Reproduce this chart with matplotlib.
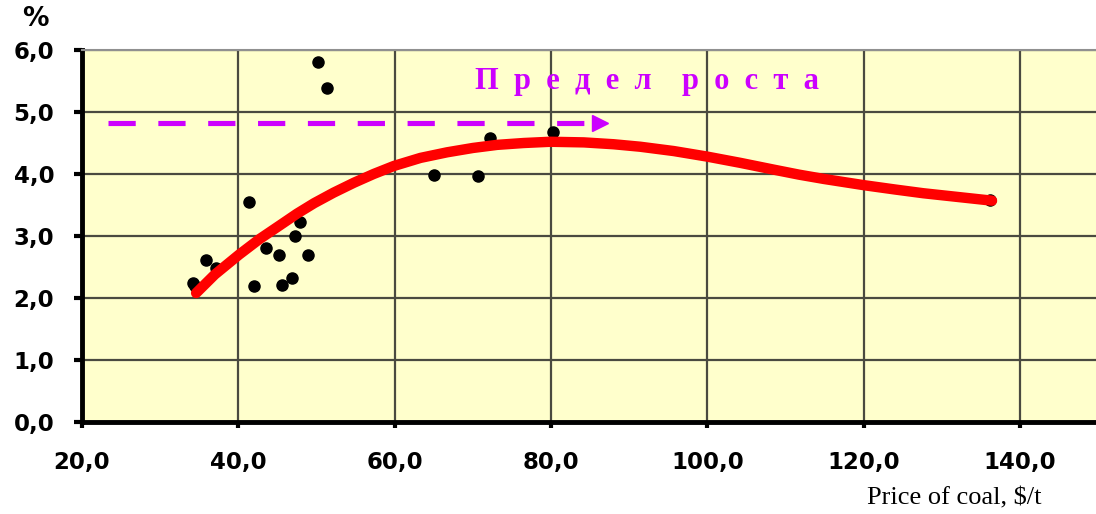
import matplotlib
matplotlib.use("Agg")
import matplotlib.pyplot as plt
from matplotlib.ticker import FuncFormatter

# scatter data
price = [34.2, 34.4, 35.9, 37.1, 41.4, 42.0, 43.5, 45.2, 45.6, 46.8, 47.2, 47.9, 48.9,
         50.2, 51.3, 65.0, 70.7, 72.2, 80.3, 136.2]
growth = [2.25, 2.19, 2.61, 2.48, 3.55, 2.19, 2.81, 2.69, 2.21, 2.33, 3.0, 3.22, 2.69,
          5.8, 5.39, 3.98, 3.96, 4.58, 4.67, 3.58]

# trend line
trend_x = [34.6, 37.0, 40.1, 42.7, 45.4, 47.5, 49.7, 52.2, 54.8, 57.3, 59.9, 63.3, 66.7,
           70.0, 73.1, 76.5, 79.9, 84.2, 88.0, 91.4, 95.7, 100.0, 104.2, 108.5, 111.7,
           114.9, 120.0, 124.0, 127.6, 132.0, 136.4]
trend_y = [2.08, 2.38, 2.70, 2.95, 3.18, 3.36, 3.53, 3.70, 3.86, 4.00, 4.13, 4.26, 4.35,
           4.42, 4.47, 4.50, 4.52, 4.51, 4.48, 4.44, 4.37, 4.28, 4.18, 4.07, 3.99,
           3.92, 3.82, 3.75, 3.69, 3.63, 3.57]

limit_x = [23.3, 86.3]
limit_y = 4.82

fig = plt.figure(figsize=(10.96, 5.14), dpi=100)
ax = fig.add_axes([0.0748, 0.179, 0.9252, 0.7237])
ax.set_facecolor('#FFFFCC')
ax.set_xlim(20, 149.7)
ax.set_ylim(0, 6)

ax.grid(True, color='#4a4a40', linewidth=1.6, zorder=0)
ax.set_axisbelow(True)

ax.plot(limit_x, [limit_y, limit_y], color='#CC00FF', linewidth=3.7, dashes=(5.3, 4.4), zorder=2)
ax.plot([limit_x[1]], [limit_y], marker='>', color='#CC00FF', markersize=12, zorder=2)

ax.plot(price, growth, 'o', color='black', markersize=8, zorder=3)
ax.plot(trend_x, trend_y, color='#FF0000', linewidth=7.5, solid_capstyle='round',
        solid_joinstyle='round', zorder=4)

ax.text(70.3, 5.5, 'П  р  е  д  е  л    р  о  с  т  а', color='#CC00FF', fontsize=22,
        fontweight='bold', family='Liberation Serif', va='center', ha='left')

ax.set_xticks([20, 40, 60, 80, 100, 120, 140])
ax.set_yticks([0, 1, 2, 3, 4, 5, 6])
fmt = FuncFormatter(lambda v, p: ('%.1f' % v).replace('.', ','))
ax.xaxis.set_major_formatter(fmt)
ax.yaxis.set_major_formatter(fmt)
for lab in ax.get_xticklabels() + ax.get_yticklabels():
    lab.set_fontweight('bold')
    lab.set_family('DejaVu Sans')
    lab.set_fontsize(16.5)
ax.tick_params(axis='y', length=6, width=3, pad=14)
ax.tick_params(axis='x', length=4, width=3, pad=17)

for s in ['left', 'bottom']:
    ax.spines[s].set_linewidth(3.5)
    ax.spines[s].set_color('black')
ax.spines['top'].set_color('#909090')
ax.spines['top'].set_linewidth(1.5)
ax.spines['right'].set_visible(False)

fig.text(0.032, 0.963, '%', fontsize=19, fontweight='bold', family='DejaVu Sans',
         ha='center', va='center')
fig.text(0.871, 0.031, 'Price of coal, $/t', fontsize=19, family='Liberation Serif',
         ha='center', va='center')

fig.savefig('out.png', dpi=100)
